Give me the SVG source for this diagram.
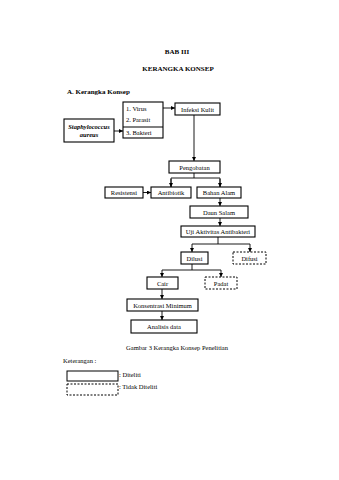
<svg xmlns="http://www.w3.org/2000/svg" width="339" height="480" viewBox="0 0 339 480">
<style>
text{font-family:"Liberation Serif","Times New Roman",serif;fill:#000;}
.t{font-size:6.5px;text-anchor:middle;}
.h{font-size:7px;font-weight:bold;text-anchor:middle;}
.b{fill:#fff;stroke:#000;stroke-width:1.1;}
.d{fill:#fff;stroke:#000;stroke-width:1;stroke-dasharray:2,1.5;}
.c{fill:none;stroke:#000;stroke-width:0.9;}
</style>
<defs>
<marker id="a" viewBox="0 0 6 6" refX="6" refY="3" markerWidth="4" markerHeight="4" orient="auto" markerUnits="userSpaceOnUse">
<path d="M0,0L6,3L0,6z" fill="#000"/>
</marker>
</defs>
<rect width="339" height="480" fill="#fff"/>
<text class="h" x="177" y="54">BAB III</text>
<text class="h" x="178" y="71">KERANGKA KONSEP</text>
<text x="67" y="94" style="font-size:7px;font-weight:bold">A.  Kerangka Konsep</text>

<g id="connectors">
<line class="c" x1="114" y1="131" x2="123" y2="131" marker-end="url(#a)"/>
<line class="c" x1="163" y1="108" x2="175" y2="108" marker-end="url(#a)"/>
<line class="c" x1="194" y1="115" x2="194" y2="161" marker-end="url(#a)"/>
<polyline class="c" points="194,173 194,178"/>
<polyline class="c" points="171,187 171,178 220,178 220,187" />
<line class="c" x1="171" y1="179" x2="171" y2="187" marker-end="url(#a)"/>
<line class="c" x1="220" y1="179" x2="220" y2="187" marker-end="url(#a)"/>
<line class="c" x1="143" y1="192.5" x2="151" y2="192.5" marker-end="url(#a)"/>
<line class="c" x1="220" y1="198" x2="220" y2="206" marker-end="url(#a)"/>
<line class="c" x1="220" y1="218" x2="220" y2="226" marker-end="url(#a)"/>
<polyline class="c" points="218,237 218,244"/>
<polyline class="c" points="192,244 250,244"/>
<line class="c" x1="192" y1="244" x2="192" y2="252" marker-end="url(#a)"/>
<line class="c" x1="250" y1="244" x2="250" y2="252" marker-end="url(#a)"/>
<polyline class="c" points="192,264 192,270"/>
<polyline class="c" points="162,270 221,270"/>
<line class="c" x1="162" y1="270" x2="162" y2="277" marker-end="url(#a)"/>
<line class="c" x1="221" y1="270" x2="221" y2="277" marker-end="url(#a)"/>
<line class="c" x1="162" y1="289" x2="162" y2="299" marker-end="url(#a)"/>
<line class="c" x1="162" y1="311" x2="162" y2="320" marker-end="url(#a)"/>
</g>

<g id="staph">
<rect class="b" x="64" y="119" width="50" height="23"/>
<text class="t" x="89" y="129" style="font-style:italic;font-weight:bold">Staphylococcus</text>
<text class="t" x="89" y="137" style="font-style:italic;font-weight:bold">aureus</text>
</g>
<g id="list">
<rect class="b" x="123" y="102" width="40" height="36"/>
<line x1="123" y1="127" x2="163" y2="127" stroke="#000" stroke-width="1.1"/>
<text x="126" y="111" style="font-size:6.5px">1. Virus</text>
<text x="126" y="122" style="font-size:6.5px">2. Parasit</text>
<text x="126" y="134.5" style="font-size:6.5px">3. Bakteri</text>
</g>
<g id="infeksi">
<rect class="b" x="175" y="103" width="45" height="12"/>
<text class="t" x="197.5" y="111.5">Infeksi Kulit</text>
</g>
<g id="pengobatan">
<rect class="b" x="169" y="161" width="51" height="12"/>
<text class="t" x="194.5" y="169.5">Pengobatan</text>
</g>
<g id="resistensi">
<rect class="b" x="105" y="187" width="38" height="11"/>
<text class="t" x="124" y="195">Resistensi</text>
</g>
<g id="antibiotik">
<rect class="b" x="151" y="187" width="40" height="11"/>
<text class="t" x="171" y="195">Antibiotik</text>
</g>
<g id="bahanalam">
<rect class="b" x="197" y="187" width="44" height="11"/>
<text class="t" x="219" y="195">Bahan Alam</text>
</g>
<g id="daunsalam">
<rect class="b" x="190" y="206" width="58" height="12"/>
<text class="t" x="219" y="214.5">Daun Salam</text>
</g>
<g id="uji">
<rect class="b" x="181" y="226" width="74" height="11"/>
<text class="t" x="218" y="234">Uji Aktivitas Antibakteri</text>
</g>
<g id="dilusi">
<rect class="b" x="181" y="252" width="27" height="12"/>
<text class="t" x="194.5" y="260.5">Dilusi</text>
</g>
<g id="difusi">
<rect class="d" x="233" y="252" width="33" height="12"/>
<text class="t" x="249.5" y="260.5">Difusi</text>
</g>
<g id="cair">
<rect class="b" x="147" y="277" width="31" height="12"/>
<text class="t" x="162.5" y="285.5">Cair</text>
</g>
<g id="padat">
<rect class="d" x="205" y="277" width="32" height="12"/>
<text class="t" x="221" y="285.5">Padat</text>
</g>
<g id="konsentrasi">
<rect class="b" x="127" y="299" width="71" height="12"/>
<text class="t" x="162.5" y="307.5">Konsentrasi Minimum</text>
</g>
<g id="analisis">
<rect class="b" x="131" y="320" width="66" height="13"/>
<text class="t" x="164" y="329">Analisis data</text>
</g>

<text class="t" x="177" y="350">Gambar 3 Kerangka Konsep Penelitian</text>
<text x="63" y="363" style="font-size:6.5px">Keterangan  :</text>
<g id="legend">
<rect x="67" y="371" width="51" height="10" fill="#fff" stroke="#000" stroke-width="1"/>
<text x="119" y="377" style="font-size:6.5px">: Diteliti</text>
<rect class="d" x="67" y="384" width="51" height="11"/>
<text x="119" y="389" style="font-size:6.5px">: Tidak Diteliti</text>
</g>
</svg>
